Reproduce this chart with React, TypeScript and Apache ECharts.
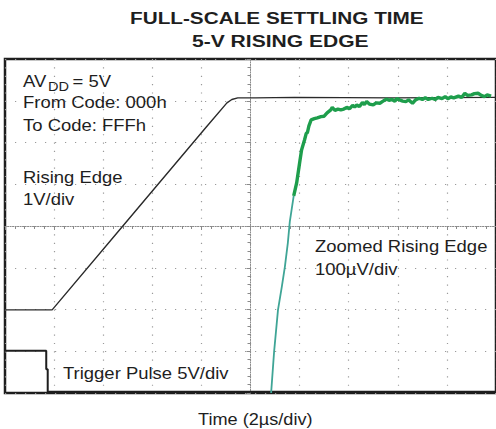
import React, { useEffect, useRef } from "react";
import * as echarts from "echarts";

// Time axis in µs (2 µs/div, centre = 0), vertical axis in scope divisions (centre = 0)
const xTicks = { min: -10, max: 10, interval: 2 };
const yTicks = { min: -4, max: 4, interval: 1 };

// Rising edge, 1 V/div
const risingEdge: [number, number][] = [
  [-10, -2.01], [-8.08, -2.01], [-5.2, 0], [-1.8, 2.37], [-0.96, 2.95],
  [-0.76, 3.03], [-0.52, 3.07], [0.2, 3.07], [1.8, 3.08], [5.8, 3.07], [10, 3.08],
];

// Trigger pulse, 5 V/div
const triggerPulse: [number, number][] = [
  [-10, -2.99], [-8.32, -2.99], [-8.32, -3.43], [-8.26, -3.43], [-8.26, -3.97], [10, -3.97],
];

// Zoomed rising edge, 100 µV/div (steep part)
const zoomedLow: [number, number][] = [
  [0.84, -4.0], [0.96, -3.02], [1.12, -2.01], [1.28, -1.44], [1.4, -0.98],
  [1.52, -0.41], [1.6, 0.1], [1.76, 0.72],
];

// Zoomed rising edge, settling part
const zoomedHigh: [number, number][] = [
  [1.76, 0.72], [1.88, 1.03], [2.0, 1.51], [2.08, 1.82], [2.2, 2.06], [2.27, 2.22],
  [2.32, 2.24], [2.38, 2.4], [2.47, 2.54], [2.6, 2.57], [2.72, 2.59], [2.87, 2.62],
  [3.0, 2.63], [3.12, 2.71], [3.27, 2.78], [3.33, 2.84], [3.44, 2.77], [3.56, 2.8],
  [3.68, 2.78], [3.8, 2.8], [3.92, 2.84], [4.04, 2.81], [4.16, 2.89], [4.24, 2.85],
  [4.33, 2.9], [4.44, 2.86], [4.56, 2.96], [4.64, 2.91], [4.73, 2.98], [4.84, 2.92],
  [5.0, 2.9], [5.12, 2.95], [5.27, 2.94], [5.4, 2.99], [5.53, 3.04], [5.64, 3.01],
  [5.76, 3.03], [5.88, 2.99], [5.96, 3.05], [6.07, 3.02], [6.2, 2.99], [6.33, 2.98],
  [6.44, 3.02], [6.6, 2.94], [6.72, 3.02], [6.87, 3.06], [7.0, 3.03], [7.12, 3.07],
  [7.24, 3.03], [7.4, 3.06], [7.52, 3.03], [7.64, 3.08], [7.8, 3.05], [7.93, 3.1],
  [8.04, 3.05], [8.16, 3.09], [8.28, 3.07], [8.47, 3.11], [8.6, 3.08], [8.73, 3.18],
  [8.84, 3.13], [9.0, 3.14], [9.12, 3.17], [9.27, 3.18], [9.4, 3.13], [9.53, 3.1],
  [9.64, 3.14], [9.8, 3.11],
];

const titleLines = ["FULL-SCALE SETTLING TIME", "5-V RISING EDGE"];
const xAxisName = "Time (2µs/div)";

const FONT = '"Liberation Sans", Arial, Helvetica, sans-serif';
const INK = "#1e1e1e";

function txt(text: string, x: number, y: number, opts: any = {}) {
  const size = opts.size ?? 16.5;
  return {
    type: "text",
    x,
    y,
    scaleX: opts.scaleX ?? 1.12,
    z: 100,
    style: {
      text,
      fill: INK,
      fontSize: size,
      fontFamily: FONT,
      fontWeight: opts.bold ? "bold" : "normal",
      textAlign: opts.align ?? "left",
      textVerticalAlign: "middle",
      align: opts.align ?? "left",
      verticalAlign: "middle",
    },
  };
}

export default function App() {
  const ref = useRef<HTMLDivElement>(null);
  useEffect(() => {
    if (!ref.current) return;
    const chart = echarts.init(ref.current, null, { renderer: "svg" });
    chart.setOption({
      animation: false,
      backgroundColor: "#ffffff",
      grid: {
        left: 5,
        top: 59,
        width: 500,
        height: 334,
        show: true,
        borderColor: "#1e1e1e",
        borderWidth: 2.5,
        backgroundColor: "transparent",
      },
      xAxis: {
        type: "value",
        min: xTicks.min,
        max: xTicks.max,
        interval: xTicks.interval,
        axisLine: { show: true, onZero: true, lineStyle: { color: "#8a8a8a", width: 1, type: [1.2, 1.3] } },
        axisTick: { show: true, length: 4, lineStyle: { color: "#8a8a8a" } },
        minorTick: { show: true, splitNumber: 5, length: 3, lineStyle: { color: "#8a8a8a" } },
        axisLabel: { show: false },
        splitLine: { show: true, lineStyle: { color: "#9a9a9a", width: 1.2, type: [1.2, 7.15] } },
      },
      yAxis: {
        type: "value",
        min: yTicks.min,
        max: yTicks.max,
        interval: yTicks.interval,
        axisLine: { show: true, onZero: true, lineStyle: { color: "#8a8a8a", width: 1, type: [1.2, 1.3] } },
        axisTick: { show: true, length: 4, lineStyle: { color: "#8a8a8a" } },
        minorTick: { show: true, splitNumber: 5, length: 3, lineStyle: { color: "#8a8a8a" } },
        axisLabel: { show: false },
        splitLine: { show: true, lineStyle: { color: "#9a9a9a", width: 1.2, type: [1.2, 8.8] } },
      },
      series: [
        {
          type: "line",
          data: triggerPulse,
          symbol: "none",
          lineStyle: { color: "#1e1e1e", width: 2 },
          z: 3,
        },
        {
          type: "line",
          data: risingEdge,
          symbol: "none",
          lineStyle: { color: "#2a2a2a", width: 1.4 },
          z: 3,
        },
        {
          type: "line",
          data: zoomedLow,
          symbol: "none",
          lineStyle: { color: "#3fa596", width: 1.8 },
          z: 4,
        },
        {
          type: "line",
          data: zoomedHigh,
          symbol: "none",
          lineStyle: { color: "#1e9e4c", width: 3.4 },
          z: 4,
        },
      ],
      graphic: [
        txt(titleLines[0], 130, 18, { bold: true, size: 17, scaleX: 1.22 }),
        txt(titleLines[1], 192, 41.5, { bold: true, size: 17, scaleX: 1.24 }),
        txt("AV", 23, 81),
        txt("DD", 48, 86.7, { size: 13 }),
        txt("= 5V", 72.5, 81),
        txt("From Code: 000h", 23, 102.5),
        txt("To Code: FFFh", 23, 125.8),
        txt("Rising Edge", 23, 177.8),
        txt("1V/div", 23, 199),
        txt("Trigger Pulse 5V/div", 63, 373),
        txt("Zoomed Rising Edge", 315, 246.5),
        txt("100µV/div", 315, 269.5),
        txt(xAxisName, 198, 419, { scaleX: 1.1 }),
      ],
    });
    return () => chart.dispose();
  }, []);
  return (
    <div
      ref={ref}
      style={{ position: "absolute", left: 0, top: 0, width: 496, height: 429, background: "#fff" }}
    />
  );
}
